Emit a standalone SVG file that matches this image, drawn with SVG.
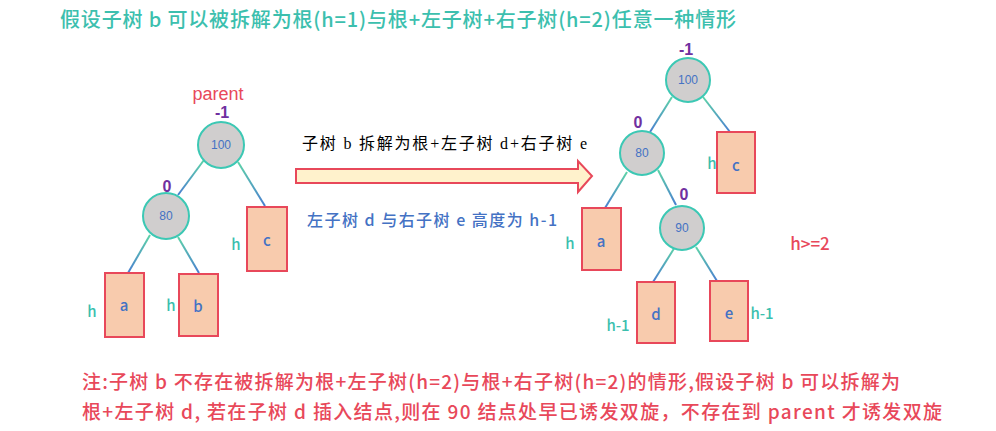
<svg xmlns="http://www.w3.org/2000/svg" width="996" height="431" viewBox="0 0 996 431">
<defs>
<linearGradient id="edgeGrad" x1="0" y1="0" x2="0" y2="1">
<stop offset="0" stop-color="#5ed3a8"/>
<stop offset="1" stop-color="#4a7fd0"/>
</linearGradient>
<style>
.cn{fill:#d0cece;stroke:#3cc8b4;stroke-width:2}
.rc{fill:#f8cbad;stroke:#e8485a;stroke-width:2}
.edge{stroke:url(#edgeGrad);stroke-width:2;fill:none}
.nt{font-family:"Liberation Sans","Noto Sans CJK SC",sans-serif;font-size:12px;fill:#4472c4;text-anchor:middle}
.lt{font-family:"Noto Sans CJK SC",sans-serif;font-size:15px;font-weight:500;fill:#4472c4;text-anchor:middle}
.ht{font-family:"Noto Sans CJK SC",sans-serif;font-size:15px;font-weight:500;fill:#3cbfae;text-anchor:middle}
.bf{font-family:"Liberation Sans","Noto Sans CJK SC",sans-serif;font-size:16px;font-weight:bold;fill:#7030a0;text-anchor:middle}
.title{font-family:"Noto Sans CJK SC",sans-serif;font-size:20px;font-weight:500;fill:#3cbfae}
.note{font-family:"Noto Sans CJK SC",sans-serif;font-size:19px;font-weight:500;fill:#e8485a}
</style>
</defs>
<rect width="996" height="431" fill="#ffffff"/>
<text class="title" x="60" y="27" textLength="676" lengthAdjust="spacing">假设子树 b 可以被拆解为根(h=1)与根+左子树+右子树(h=2)任意一种情形</text>

<g id="connectors">
<line class="edge" x1="204" y1="160" x2="178" y2="195"/>
<line class="edge" x1="238" y1="162" x2="265" y2="206"/>
<line class="edge" x1="150" y1="235" x2="128" y2="273"/>
<line class="edge" x1="178" y1="237" x2="199" y2="273"/>
<line class="edge" x1="672" y1="97" x2="650" y2="132"/>
<line class="edge" x1="703" y1="97" x2="730" y2="132"/>
<line class="edge" x1="627" y1="172" x2="605" y2="208"/>
<line class="edge" x1="658" y1="170" x2="676" y2="205"/>
<line class="edge" x1="675" y1="247" x2="653" y2="282"/>
<line class="edge" x1="696" y1="247" x2="717" y2="281"/>
</g>

<g id="left-tree">
<text x="218" y="100" font-family="Liberation Sans,sans-serif" font-size="18" fill="#e8485a" text-anchor="middle">parent</text>
<g id="L100">
<circle class="cn" cx="221" cy="145" r="23"/>
<text class="nt" x="221" y="149">100</text>
<text class="bf" x="222" y="118">-1</text>
</g>
<g id="L80">
<circle class="cn" cx="166" cy="216" r="23"/>
<text class="nt" x="166" y="220">80</text>
<text class="bf" x="167" y="192">0</text>
</g>
<g id="La">
<rect class="rc" x="105" y="273" width="39" height="64"/>
<text class="lt" x="124" y="311">a</text>
<text class="ht" x="92" y="317">h</text>
</g>
<g id="Lb">
<rect class="rc" x="179" y="274" width="39" height="62"/>
<text class="lt" x="198" y="312">b</text>
<text class="ht" x="171" y="311">h</text>
</g>
<g id="Lc">
<rect class="rc" x="247" y="207" width="40" height="64"/>
<text class="lt" x="267" y="246">c</text>
<text class="ht" x="236" y="250">h</text>
</g>
</g>

<g id="arrow">
<polygon points="296,169 578,169 578,161 592,176 578,192 578,183 296,183" fill="#fff2cc" stroke="#e8485a" stroke-width="2" stroke-linejoin="miter"/>
</g>
<text x="302" y="149" font-family="Liberation Serif,Noto Sans CJK SC,serif" font-size="16" fill="#000000" textLength="285" lengthAdjust="spacing">子树 b 拆解为根+左子树 d+右子树 e</text>
<text x="307" y="226" font-family="Noto Sans CJK SC,sans-serif" font-size="16" font-weight="500" fill="#4472c4" textLength="250" lengthAdjust="spacing">左子树 d 与右子树 e 高度为 h-1</text>

<g id="right-tree">
<g id="R100">
<circle class="cn" cx="688" cy="80" r="22"/>
<text class="nt" x="688" y="84">100</text>
<text class="bf" x="686" y="55">-1</text>
</g>
<g id="R80">
<circle class="cn" cx="642" cy="153" r="22"/>
<text class="nt" x="642" y="157">80</text>
<text class="bf" x="638" y="128">0</text>
</g>
<g id="R90">
<circle class="cn" cx="682" cy="228" r="22"/>
<text class="nt" x="682" y="232">90</text>
<text class="bf" x="684" y="200">0</text>
</g>
<g id="Ra">
<rect class="rc" x="582" y="208" width="39" height="62"/>
<text class="lt" x="601" y="247">a</text>
<text class="ht" x="570" y="249">h</text>
</g>
<g id="Rc">
<rect class="rc" x="717" y="132" width="38" height="61"/>
<text class="lt" x="736" y="171">c</text>
<text class="ht" x="712" y="169">h</text>
</g>
<g id="Rd">
<rect class="rc" x="637" y="282" width="38" height="61"/>
<text class="lt" x="656" y="320">d</text>
<text class="ht" x="618" y="331">h-1</text>
</g>
<g id="Re">
<rect class="rc" x="710" y="281" width="38" height="60"/>
<text class="lt" x="729" y="319">e</text>
<text class="ht" x="762" y="319">h-1</text>
</g>
</g>
<text x="810" y="250" font-family="Noto Sans CJK SC,sans-serif" font-size="17" font-weight="500" fill="#e8485a" text-anchor="middle">h&gt;=2</text>

<text class="note" x="82" y="389" textLength="818" lengthAdjust="spacing">注:子树 b 不存在被拆解为根+左子树(h=2)与根+右子树(h=2)的情形,假设子树 b 可以拆解为</text>
<text class="note" x="82" y="419" textLength="860" lengthAdjust="spacing">根+左子树 d, 若在子树 d 插入结点,则在 90 结点处早已诱发双旋，不存在到 parent 才诱发双旋</text>
</svg>
